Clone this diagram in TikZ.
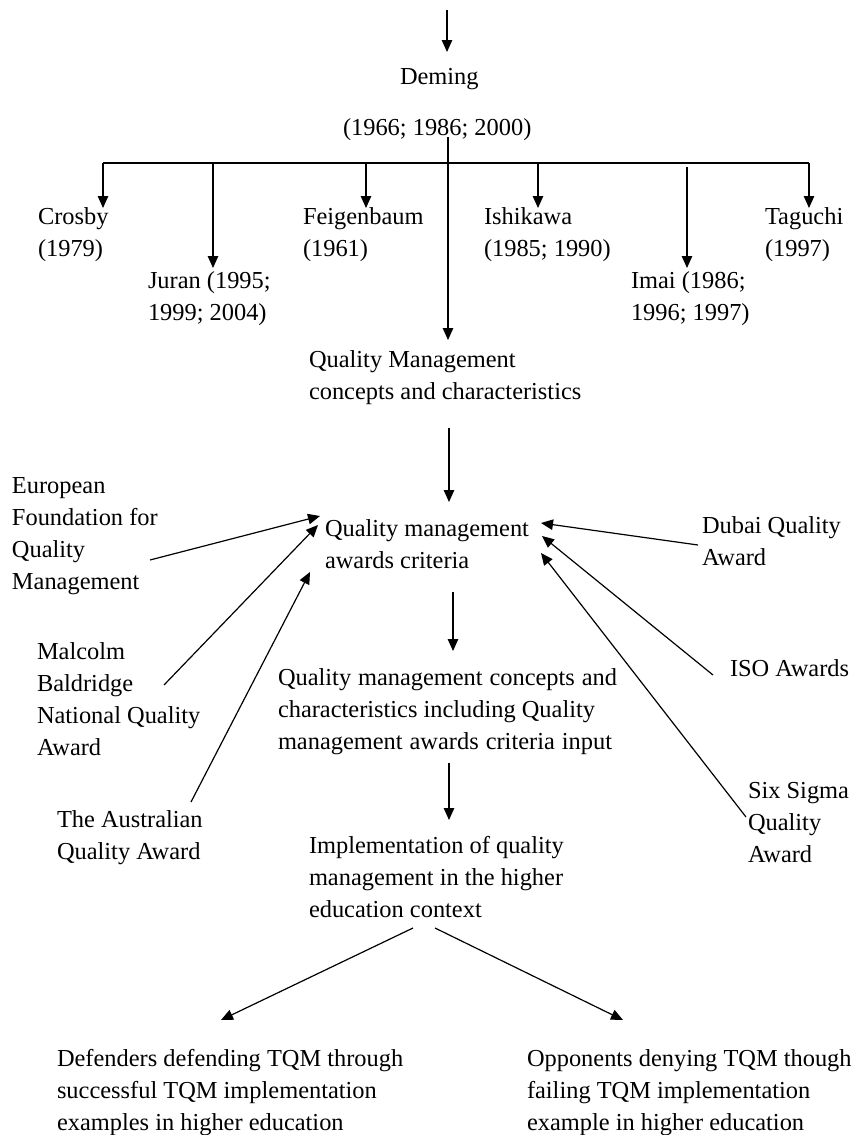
\documentclass[tikz,border=0pt]{standalone}
\usepackage{fontspec}
\setmainfont{Liberation Serif}
\usetikzlibrary{arrows.meta}
\begin{document}
\begin{tikzpicture}[x=1pt,y=-1pt,
  every node/.style={inner sep=0pt,outer sep=0pt},
  label/.style={anchor=base west,align=left,font=\fontsize{24.4}{32}\selectfont},
  link/.style={line width=1.2pt},
  flow/.style={link,-{Triangle[length=12pt,width=10.5pt]}}]
\useasboundingbox (0,0) rectangle (856,1135);

% ---- Deming and the quality gurus (positions are last-line baselines) ----
\coordinate (top) at (447,10);
\coordinate (topend) at (447,52);
\node[label] (deming) at (400,84) {Deming};
\node[label] (demyears) at (343,135) {(1966; 1986; 2000)};

\node[label] (crosby) at (38,256) {Crosby\\(1979)};
\node[label] (juran) at (148,320) {Juran (1995;\\1999; 2004)};
\node[label] (feig) at (303,256) {Feigenbaum\\(1961)};
\node[label] (ishi) at (484,256) {Ishikawa\\(1985; 1990)};
\node[label] (imai) at (631,320) {Imai (1986;\\1996; 1997)};
\node[label] (taguchi) at (765,256) {Taguchi\\(1997)};

\node[label] (qmcc) at (309,399) {Quality Management\\concepts and characteristics};
\node[label] (awards) at (325,568) {Quality management\\awards criteria};

% ---- award programmes ----
\node[label] (efqm) at (12,589) {European\\Foundation for\\Quality\\Management};
\node[label] (malcolm) at (37,755) {Malcolm\\Baldridge\\National Quality\\Award};
\node[label] (australian) at (57,859) {The Australian\\Quality Award};
\node[label] (dubai) at (702,565) {Dubai Quality\\Award};
\node[label] (iso) at (730,676) {ISO Awards};
\node[label] (sixsigma) at (748,862) {Six Sigma\\Quality\\Award};

\node[label] (qmcin) at (278,749) {\makebox[339pt][s]{Quality management concepts and}\\
  \makebox[317pt][s]{characteristics including Quality}\\
  \makebox[334pt][s]{management awards criteria input}};
\node[label] (impl) at (309,917) {Implementation of quality\\management in the higher\\education context};

\node[label] (defenders) at (57,1130) {Defenders defending TQM through\\successful TQM implementation\\examples in higher education};
\node[label] (opponents) at (527,1130) {Opponents denying TQM though\\failing TQM implementation\\example in higher education};

% ---- connector end points ----
\coordinate (dstart) at (448,137);
\coordinate (dend) at (448,340);
\coordinate (barL) at (103,163);
\coordinate (barR) at (809,163);
\coordinate (crosbyT) at (103,208);
\coordinate (juranT) at (213,268);
\coordinate (feigT) at (366,208);
\coordinate (ishiT) at (538,208);
\coordinate (imaiS) at (687,167);
\coordinate (imaiT) at (687,268);
\coordinate (taguchiT) at (809,208);

\coordinate (qmccS) at (449,428);
\coordinate (qmccT) at (449,502);

\coordinate (efqmS) at (150,560);
\coordinate (efqmT) at (320,516);
\coordinate (malcolmS) at (164,685);
\coordinate (malcolmT) at (318,525);
\coordinate (australianS) at (191,802);
\coordinate (australianT) at (310,572);
\coordinate (dubaiS) at (698,545);
\coordinate (dubaiT) at (541,523);
\coordinate (isoS) at (713,675);
\coordinate (isoT) at (542,536);
\coordinate (sixS) at (746,817);
\coordinate (sixT) at (541,553);

\coordinate (awardsS) at (453,592);
\coordinate (awardsT) at (453,651);
\coordinate (qmcinS) at (449,763);
\coordinate (qmcinT) at (449,820);
\coordinate (implL) at (413,928);
\coordinate (implR) at (435,928);
\coordinate (defT) at (221,1020);
\coordinate (oppT) at (623,1020);

% ---- connectors ----
\draw[flow] (top) -- (topend);
\draw[flow] (dstart) -- (dend);
\draw[link] (barL) -- (barR);
\draw[flow] (barL) -- (crosbyT);
\draw[flow] (juranT |- barL) -- (juranT);
\draw[flow] (feigT |- barL) -- (feigT);
\draw[flow] (ishiT |- barL) -- (ishiT);
\draw[flow] (imaiS) -- (imaiT);
\draw[flow] (barR) -- (taguchiT);

\draw[flow] (qmccS) -- (qmccT);

\draw[flow] (efqmS) -- (efqmT);
\draw[flow] (malcolmS) -- (malcolmT);
\draw[flow] (australianS) -- (australianT);
\draw[flow] (dubaiS) -- (dubaiT);
\draw[flow] (isoS) -- (isoT);
\draw[flow] (sixS) -- (sixT);

\draw[flow] (awardsS) -- (awardsT);
\draw[flow] (qmcinS) -- (qmcinT);
\draw[flow] (implL) -- (defT);
\draw[flow] (implR) -- (oppT);
\end{tikzpicture}
\end{document}
